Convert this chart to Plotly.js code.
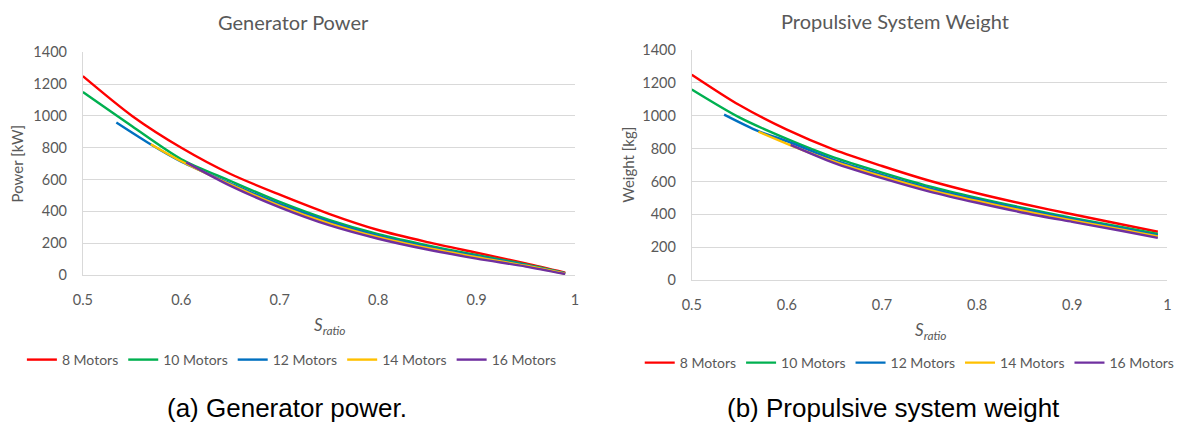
<!DOCTYPE html>
<html>
<head>
<meta charset="utf-8">
<script src="https://cdn.plot.ly/plotly-3.0.1.min.js"></script>
<style>
  html, body { margin: 0; padding: 0; background: #ffffff; }
  #chart { width: 1180px; height: 423px; }
</style>
</head>
<body>
<div id="chart"></div>
<script>
// ---- Data ----
const seriesNames = ["8 Motors", "10 Motors", "12 Motors", "14 Motors", "16 Motors"];

// Generator power [kW]
const sPow8  = [0.5, 0.55, 0.6, 0.65, 0.7, 0.75, 0.8, 0.85, 0.9, 0.95, 0.99];
const pow8   = [1250, 1000, 800, 635, 505, 385, 283, 207, 140, 73, 15];
const sPow10 = [0.5, 0.55, 0.6, 0.65, 0.7, 0.75, 0.8, 0.85, 0.9, 0.95, 0.99];
const pow10  = [1150, 935, 728, 591, 459, 346, 256, 186, 126, 67, 12];
const sPow12 = [0.534, 0.567, 0.6, 0.65, 0.7, 0.75, 0.8, 0.85, 0.9, 0.95, 0.99];
const pow12  = [958, 828, 712, 575, 445, 335, 245, 176, 118, 62, 10];
const sPow14 = [0.569, 0.6, 0.65, 0.7, 0.75, 0.8, 0.85, 0.9, 0.95, 0.99];
const pow14  = [822, 715, 568, 435, 325, 238, 170, 112, 58, 8];
const sPow16 = [0.605, 0.65, 0.7, 0.75, 0.8, 0.85, 0.9, 0.95, 0.99];
const pow16  = [708, 560, 425, 313, 228, 160, 103, 53, 6];

// Propulsive system weight [kg]
const sW8  = [0.5, 0.55, 0.6, 0.65, 0.7, 0.75, 0.8, 0.85, 0.9, 0.95, 0.99];
const w8   = [1250, 1065, 915, 792, 694, 604, 528, 461, 400, 341, 294];
const sW10 = [0.5, 0.55, 0.6, 0.65, 0.7, 0.75, 0.8, 0.85, 0.9, 0.95, 0.99];
const w10  = [1160, 990, 859, 745, 654, 570, 500, 437, 378, 324, 280];
const sW12 = [0.534, 0.57, 0.6, 0.65, 0.7, 0.75, 0.8, 0.85, 0.9, 0.95, 0.99];
const w12  = [1007, 906, 845, 730, 640, 558, 490, 428, 370, 317, 272];
const sW14 = [0.57, 0.604, 0.65, 0.7, 0.75, 0.8, 0.85, 0.9, 0.95, 0.99];
const w14  = [903, 820, 720, 630, 549, 481, 419, 362, 309, 265];
const sW16 = [0.604, 0.65, 0.7, 0.75, 0.8, 0.85, 0.9, 0.95, 0.99];
const w16  = [823, 712, 620, 538, 470, 408, 354, 301, 256];

const yTicks = [0, 200, 400, 600, 800, 1000, 1200, 1400];
const xTicks = [0.5, 0.6, 0.7, 0.8, 0.9, 1];
const xTickText = ["0.5", "0.6", "0.7", "0.8", "0.9", "1"];

// ---- Styles ----
const colors = ["#FF0000", "#00B050", "#0070C0", "#FFC000", "#7030A0"];
const W = 1180, H = 423;
const FONT = "Lato, 'Open Sans', sans-serif";
const GRAY = "#595959";

const powX = [sPow8, sPow10, sPow12, sPow14, sPow16];
const powY = [pow8, pow10, pow12, pow14, pow16];
const wX = [sW8, sW10, sW12, sW14, sW16];
const wY = [w8, w10, w12, w14, w16];

const traces = [];
for (let i = 0; i < 5; i++) {
  traces.push({
    type: "scatter", mode: "lines", name: seriesNames[i],
    x: powX[i], y: powY[i], xaxis: "x", yaxis: "y",
    line: { color: colors[i], width: 2.4, shape: "spline", smoothing: 0.8 },
    legend: "legend", hoverinfo: "skip"
  });
}
for (let i = 0; i < 5; i++) {
  traces.push({
    type: "scatter", mode: "lines", name: seriesNames[i],
    x: wX[i], y: wY[i], xaxis: "x2", yaxis: "y2",
    line: { color: colors[i], width: 2.4, shape: "spline", smoothing: 0.8 },
    legend: "legend2", hoverinfo: "skip"
  });
}

function px(x) { return x / W; }
function py(y) { return 1 - y / H; }

function xAxis(domain, anchor) {
  return {
    domain: domain, anchor: anchor, range: [0.5, 1.0],
    tickvals: xTicks, ticktext: xTickText,
    showgrid: false, zeroline: false,
    showline: true, linecolor: "#d9d9d9", linewidth: 1,
    ticks: "", ticklabelstandoff: 12,
    tickfont: { family: FONT, size: 14.5, color: GRAY },
    fixedrange: true
  };
}
function yAxis(domain, anchor) {
  return {
    domain: domain, anchor: anchor, range: [0, 1400],
    tickvals: yTicks,
    showgrid: true, gridcolor: "#d9d9d9", gridwidth: 1,
    zeroline: false, showline: true, linecolor: "#d9d9d9", linewidth: 1,
    ticks: "", ticklabelstandoff: 12,
    tickfont: { family: FONT, size: 14.5, color: GRAY },
    fixedrange: true
  };
}

const legendBase = {
  orientation: "h", xanchor: "left", yanchor: "middle",
  font: { family: FONT, size: 14, color: GRAY },
  bgcolor: "rgba(0,0,0,0)", borderwidth: 0, traceorder: "normal"
};

const layout = {
  width: W, height: H,
  margin: { l: 0, r: 0, t: 0, b: 0 },
  paper_bgcolor: "#ffffff", plot_bgcolor: "#ffffff",
  showlegend: true,
  xaxis: xAxis([px(83.3), px(578)], "y"),
  yaxis: yAxis([py(275), py(52.3)], "x"),
  xaxis2: xAxis([px(695.3), px(1173.3)], "y2"),
  yaxis2: yAxis([py(280), py(50)], "x2"),
  legend: Object.assign({}, legendBase, { x: px(22), y: py(360) }),
  legend2: Object.assign({}, legendBase, { x: px(643), y: py(363) }),
  annotations: [
    { text: "Generator Power", x: px(295), y: py(22), xref: "paper", yref: "paper",
      xanchor: "center", yanchor: "middle", showarrow: false,
      font: { family: FONT, size: 20, color: GRAY } },
    { text: "Propulsive System Weight", x: px(900), y: py(21), xref: "paper", yref: "paper",
      xanchor: "center", yanchor: "middle", showarrow: false,
      font: { family: FONT, size: 20, color: GRAY } },
    { text: "Power [kW]", x: px(17), y: py(163.5), xref: "paper", yref: "paper",
      xanchor: "center", yanchor: "middle", showarrow: false, textangle: -90,
      font: { family: FONT, size: 15, color: GRAY } },
    { text: "Weight [kg]", x: px(631), y: py(165), xref: "paper", yref: "paper",
      xanchor: "center", yanchor: "middle", showarrow: false, textangle: -90,
      font: { family: FONT, size: 15, color: GRAY } },
    { text: "<i>S<sub>ratio</sub></i>", x: px(331), y: py(326), xref: "paper", yref: "paper",
      xanchor: "center", yanchor: "middle", showarrow: false,
      font: { family: FONT, size: 17, color: GRAY } },
    { text: "<i>S<sub>ratio</sub></i>", x: px(935), y: py(331), xref: "paper", yref: "paper",
      xanchor: "center", yanchor: "middle", showarrow: false,
      font: { family: FONT, size: 17, color: GRAY } },
    { text: "(a) Generator power.", x: px(288.5), y: py(408), xref: "paper", yref: "paper",
      xanchor: "center", yanchor: "middle", showarrow: false,
      font: { family: "'Liberation Sans', Arial, sans-serif", size: 26, color: "#000000" } },
    { text: "(b) Propulsive system weight", x: px(898), y: py(408), xref: "paper", yref: "paper",
      xanchor: "center", yanchor: "middle", showarrow: false,
      font: { family: "'Liberation Sans', Arial, sans-serif", size: 26, color: "#000000" } }
  ]
};

Plotly.newPlot("chart", traces, layout, { staticPlot: true, displayModeBar: false });
</script>
</body>
</html>
